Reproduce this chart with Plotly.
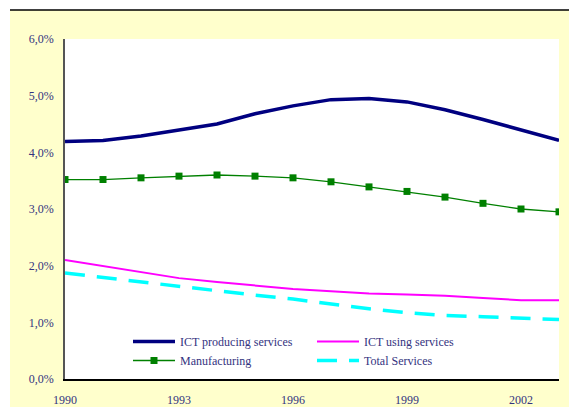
import plotly.graph_objects as go

# Years and series values (share, in percent)
years = list(range(1990, 2004))
ict_producing = [4.19, 4.21, 4.29, 4.39, 4.50, 4.68, 4.82, 4.93, 4.95, 4.89, 4.75, 4.58, 4.40, 4.21]
ict_using = [2.10, 1.99, 1.89, 1.78, 1.71, 1.65, 1.59, 1.55, 1.51, 1.49, 1.47, 1.43, 1.39, 1.39]
manufacturing = [3.52, 3.52, 3.55, 3.58, 3.60, 3.58, 3.55, 3.48, 3.39, 3.31, 3.21, 3.10, 3.00, 2.95]
total_services = [1.87, 1.79, 1.71, 1.63, 1.55, 1.48, 1.41, 1.32, 1.24, 1.17, 1.12, 1.10, 1.08, 1.05]

x_ticks = [1990, 1993, 1996, 1999, 2002]
y_ticks = [0, 1, 2, 3, 4, 5, 6]
y_tick_text = ["0,0%", "1,0%", "2,0%", "3,0%", "4,0%", "5,0%", "6,0%"]

font_family = "Liberation Serif"
text_color = "#333380"

fig = go.Figure()
fig.add_trace(go.Scatter(x=years, y=ict_producing, name="ICT producing services",
                         mode="lines", line=dict(color="#000080", width=3.5), legend="legend"))
fig.add_trace(go.Scatter(x=years, y=manufacturing, name="Manufacturing",
                         mode="lines+markers", line=dict(color="#008000", width=1.3),
                         marker=dict(symbol="square", size=7, color="#008000"), legend="legend"))
fig.add_trace(go.Scatter(x=years, y=ict_using, name="ICT using services",
                         mode="lines", line=dict(color="#FF00FF", width=2), legend="legend2"))
fig.add_trace(go.Scatter(x=years, y=total_services, name="Total Services",
                         mode="lines", line=dict(color="#00FFFF", width=3.5, dash="20px,12px"),
                         legend="legend2"))

L, R, T, B = 65, 10, 39, 28
W, H = 569, 407
pw, ph = W - L - R, H - T - B

def px_x(p):
    return (p - L) / pw

def px_y(p):
    return (H - B - p) / ph

shapes = [
    # yellow frame behind the chart
    dict(type="rect", xref="paper", yref="paper", x0=px_x(10), x1=px_x(W + 2),
         y0=px_y(H + 2), y1=px_y(10), fillcolor="#FFFFCC", line=dict(width=0), layer="below"),
    # white plotting area
    dict(type="rect", xref="paper", yref="paper", x0=0, x1=1, y0=0, y1=1,
         fillcolor="white", line=dict(width=0), layer="below"),
    # top rule
    dict(type="line", xref="paper", yref="paper", x0=px_x(10), x1=px_x(W + 2),
         y0=px_y(10), y1=px_y(10), line=dict(color="black", width=1.5)),
]

legend_style = dict(
    orientation="v", xanchor="left", yanchor="top",
    bgcolor="rgba(0,0,0,0)", borderwidth=0, itemwidth=42,
    font=dict(family=font_family, size=12, color=text_color),
    tracegroupgap=0,
)

fig.update_layout(
    width=W, height=H,
    margin=dict(l=L, r=R, t=T, b=B, pad=0, autoexpand=False),
    paper_bgcolor="white",
    plot_bgcolor="white",
    font=dict(family=font_family, size=12, color=text_color),
    shapes=shapes,
    showlegend=True,
    legend=dict(x=px_x(128), y=px_y(327), **legend_style),
    legend2=dict(x=px_x(312), y=px_y(327), **legend_style),
)
fig.update_xaxes(
    range=[1990, 2003], tickmode="array", tickvals=x_ticks, ticktext=[str(v) for v in x_ticks],
    showgrid=False, zeroline=False, showline=True, linecolor="black", linewidth=1.5,
    ticks="", ticklabelstandoff=9, tickfont=dict(family=font_family, size=12, color=text_color),
)
fig.update_yaxes(
    range=[0, 6], tickmode="array", tickvals=y_ticks, ticktext=y_tick_text,
    showgrid=False, zeroline=False, showline=True, linecolor="#555555", linewidth=1.5,
    ticks="", ticklabelstandoff=7, tickfont=dict(family=font_family, size=12, color=text_color),
)

fig.write_html("out.html")
